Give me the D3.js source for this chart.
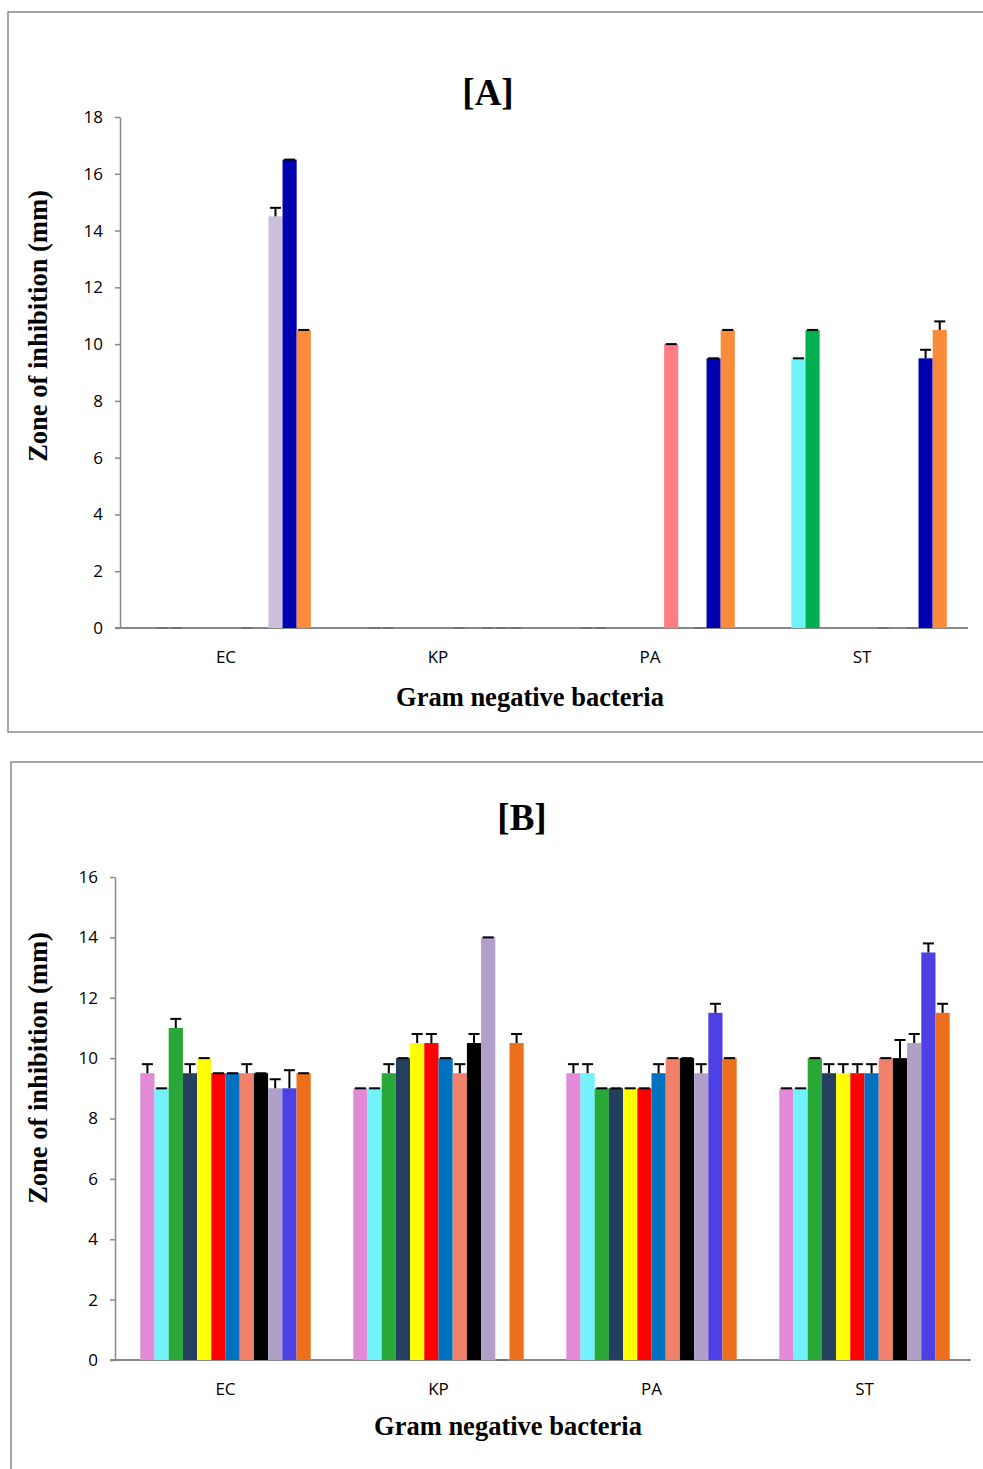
<!DOCTYPE html>
<html>
<head>
  <meta charset="utf-8">
  <script src="https://d3js.org/d3.v7.min.js"></script>
  <style>
    body { margin: 0; background: #fff; }
    svg { display: block; }
    .tick text { font-family: "Open Sans", "Liberation Sans", sans-serif; font-size: 17px; fill: #000; }
    .ttl { font-family: "Liberation Serif", "DejaVu Serif", serif; font-weight: bold; fill: #000; }
  </style>
</head>
<body>
  <svg id="root" width="983" height="1469"></svg>
  <script>
    // categories (bacteria)
    var categories = ['EC', 'KP', 'PA', 'ST'];

    // panel A: 12 samples per bacterium, null = no bar, 0 = zero bar (tiny mark)
    var aEC = [null, 0, 0, null, null, null, null, 0, null, 14.5, 16.5, 10.5];
    var aKP = [null, 0, 0, null, null, null, null, 0, null, 0, 0, 0];
    var aPA = [null, 0, 0, null, null, null, null, 10, null, 0, 9.5, 10.5];
    var aST = [null, 9.5, 10.5, null, null, null, null, 0, null, 0, 9.5, 10.5];
    var aErrEC = [0, 0, 0, 0, 0, 0, 0, 0, 0, 0.3, 0, 0];
    var aErrKP = [0, 0, 0, 0, 0, 0, 0, 0, 0, 0, 0, 0];
    var aErrPA = [0, 0, 0, 0, 0, 0, 0, 0, 0, 0, 0, 0];
    var aErrST = [0, 0, 0, 0, 0, 0, 0, 0, 0, 0, 0.3, 0.3];
    var colorsA = ['#4f81bd', '#6ff2f8', '#00b050', '#1f497d', '#ffff00', '#ff0000',
                   '#0070c0', '#ff7c80', '#000000', '#ccc1da', '#0000b3', '#f98b3a'];
    var ticksA = [0, 2, 4, 6, 8, 10, 12, 14, 16, 18];

    // panel B
    var bEC = [9.5, 9, 11, 9.5, 10, 9.5, 9.5, 9.5, 9.5, 9, 9, 9.5];
    var bKP = [9, 9, 9.5, 10, 10.5, 10.5, 10, 9.5, 10.5, 14, 0, 10.5];
    var bPA = [9.5, 9.5, 9, 9, 9, 9, 9.5, 10, 10, 9.5, 11.5, 10];
    var bST = [9, 9, 10, 9.5, 9.5, 9.5, 9.5, 10, 10, 10.5, 13.5, 11.5];
    var bErrEC = [0.3, 0, 0.3, 0.3, 0, 0, 0, 0.3, 0, 0.3, 0.6, 0];
    var bErrKP = [0, 0, 0.3, 0, 0.3, 0.3, 0, 0.3, 0.3, 0, 0, 0.3];
    var bErrPA = [0.3, 0.3, 0, 0, 0, 0, 0.3, 0, 0, 0.3, 0.3, 0];
    var bErrST = [0, 0, 0, 0.3, 0.3, 0.3, 0.3, 0, 0.6, 0.3, 0.3, 0.3];
    var colorsB = ['#e38ad6', '#72f2fa', '#29a837', '#243f5f', '#ffff00', '#ff0000',
                   '#0070c0', '#f0816b', '#000000', '#b0a0c8', '#4f40e6', '#ec6f1c'];
    var ticksB = [0, 2, 4, 6, 8, 10, 12, 14, 16];

    var svg = d3.select('#root');

    function drawPanel(opt) {
      var g = svg.append('g');

      // frame
      g.append('rect')
        .attr('x', opt.box[0]).attr('y', opt.box[1])
        .attr('width', 1000).attr('height', opt.box[2])
        .attr('fill', 'none').attr('stroke', '#888').attr('stroke-width', 1.5);

      var x = d3.scaleBand().domain(categories).range([opt.left, opt.right]).paddingInner(0.2).paddingOuter(0.1);
      var xs = d3.scaleBand().domain(d3.range(12)).range([0, x.bandwidth()]);
      var y = d3.scaleLinear().domain([0, opt.max]).range([opt.bottom, opt.top]);

      // y axis
      var ya = g.append('g')
        .attr('transform', 'translate(' + opt.axisX + ',0)')
        .call(d3.axisLeft(y).tickValues(opt.ticks).tickSize(5).tickPadding(12).tickSizeOuter(0));
      ya.selectAll('path, line').attr('stroke', '#888').attr('stroke-width', 1.5);

      // x axis
      var xa = g.append('g')
        .attr('transform', 'translate(0,' + opt.bottom + ')')
        .call(d3.axisBottom(x).tickSize(0).tickPadding(26));
      xa.select('.domain').remove();
      xa.selectAll('.tick text').attr('dy', '0.5em');
      g.append('line')
        .attr('x1', opt.axisX - 5).attr('x2', opt.right)
        .attr('y1', opt.bottom).attr('y2', opt.bottom)
        .attr('stroke', '#888').attr('stroke-width', 1.8);

      var rows = [];
      categories.forEach(function (c, ci) {
        opt.values[ci].forEach(function (v, si) {
          if (v === null) return;
          rows.push({ cat: c, s: si, v: v, e: opt.errs[ci][si] });
        });
      });

      var bars = g.selectAll('.bar').data(rows).enter().append('g');

      bars.filter(function (d) { return d.v > 0; }).append('rect')
        .attr('x', function (d) { return x(d.cat) + xs(d.s); })
        .attr('width', xs.bandwidth())
        .attr('y', function (d) { return y(d.v); })
        .attr('height', function (d) { return y(0) - y(d.v); })
        .attr('fill', function (d) { return opt.colors[d.s]; });

      // error bars
      bars.each(function (d) {
        var cx = x(d.cat) + xs(d.s) + xs.bandwidth() / 2;
        var sel = d3.select(this);
        var zero = d.v === 0;
        var col = zero ? '#6d6d6d' : '#000';
        var top = y(d.v + d.e);
        if (d.e > 0) {
          sel.append('line')
            .attr('x1', cx).attr('x2', cx)
            .attr('y1', y(d.v)).attr('y2', top)
            .attr('stroke', col).attr('stroke-width', 2);
        }
        sel.append('line')
          .attr('x1', cx - 5.5).attr('x2', cx + 5.5)
          .attr('y1', top).attr('y2', top)
          .attr('stroke', col).attr('stroke-width', zero ? 1.5 : 2);
      });

      // titles
      g.append('text').attr('class', 'ttl')
        .attr('x', opt.titleX).attr('y', opt.titleY)
        .attr('text-anchor', 'middle').style('font-size', '37px')
        .text(opt.title);
      g.append('text').attr('class', 'ttl')
        .attr('transform', 'translate(47,' + opt.yLabelY + ') rotate(-90)')
        .attr('text-anchor', 'middle').style('font-size', '26.5px')
        .text('Zone of inhibition (mm)');
      g.append('text').attr('class', 'ttl')
        .attr('x', opt.xLabelX).attr('y', opt.xLabelY)
        .attr('text-anchor', 'middle').style('font-size', '26.5px')
        .text('Gram negative bacteria');
    }

    drawPanel({
      box: [8, 12, 720],
      left: 120, right: 968, axisX: 120,
      top: 117, bottom: 628, max: 18, ticks: ticksA,
      values: [aEC, aKP, aPA, aST], errs: [aErrEC, aErrKP, aErrPA, aErrST],
      colors: colorsA,
      title: '[A]', titleX: 488, titleY: 105,
      yLabelY: 326, xLabelX: 530, xLabelY: 706
    });

    drawPanel({
      box: [11, 762, 720],
      left: 119, right: 971, axisX: 115,
      top: 877, bottom: 1360, max: 16, ticks: ticksB,
      values: [bEC, bKP, bPA, bST], errs: [bErrEC, bErrKP, bErrPA, bErrST],
      colors: colorsB,
      title: '[B]', titleX: 522, titleY: 830,
      yLabelY: 1068, xLabelX: 508, xLabelY: 1435
    });
  </script>
</body>
</html>
